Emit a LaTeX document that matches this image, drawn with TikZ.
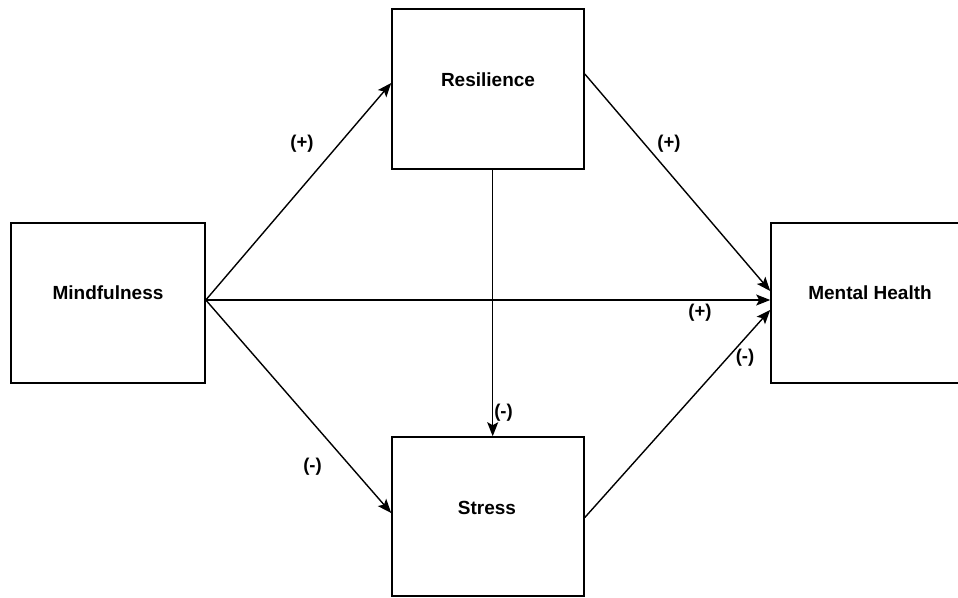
\documentclass[tikz,border=0pt]{standalone}
\usepackage{fontspec}
\setmainfont{Liberation Sans}
\usetikzlibrary{arrows.meta}
\begin{document}
\begin{tikzpicture}[x=1pt,y=-1pt,
  box/.style={draw=black,line width=1.6pt,rectangle,inner sep=0pt},
  txt/.style={font=\fontsize{19}{22}\selectfont\bfseries,inner sep=0pt},
  lbl/.style={font=\fontsize{18.5}{22}\selectfont\bfseries,inner sep=0pt},
  conn/.style={line width=1.4pt,-{Stealth[length=14pt,width=11pt,inset=3pt]}}]
\useasboundingbox (0,0) rectangle (958,597);
\fill[white] (0,0) rectangle (958,597);
\node[box,minimum width=194pt,minimum height=160pt] (mind) at (108,303) {};
\node[box,minimum width=192pt,minimum height=160pt] (res) at (488,89) {};
\node[box,minimum width=192pt,minimum height=159pt] (str) at (488,516.5) {};
\node[box,minimum width=220pt,minimum height=160pt] (mh) at (881,303) {};
\node[txt] (mindt) at (108,293) {Mindfulness};
\node[txt] (rest) at (488,80) {Resilience};
\node[txt] (strt) at (487,508) {Stress};
\node[txt] (mht) at (870,293) {Mental Health};
\draw[conn] ([yshift=3pt]mind.east) -- ([yshift=6pt]res.west);
\draw[conn] ([yshift=3pt]mind.east) -- ([yshift=3pt]mh.west);
\draw[conn] ([yshift=3pt]mind.east) -- ([yshift=3.5pt]str.west);
\draw[conn] ([yshift=15pt]res.east) -- ([yshift=12pt]mh.west);
\draw[conn] ([yshift=-1pt]str.east) -- ([yshift=-7pt]mh.west);
\draw[conn] ([xshift=4.7pt]res.south) -- ([xshift=4.7pt]str.north);
\node[lbl] (l1) at (302,143.5) {(+)};
\node[lbl] (l2) at (669,143.5) {(+)};
\node[lbl] (l3) at (700,312.5) {(+)};
\node[lbl] (l4) at (745,358) {(-)};
\node[lbl] (l5) at (503.5,412.5) {(-)};
\node[lbl] (l6) at (312.5,467) {(-)};
\end{tikzpicture}
\end{document}
